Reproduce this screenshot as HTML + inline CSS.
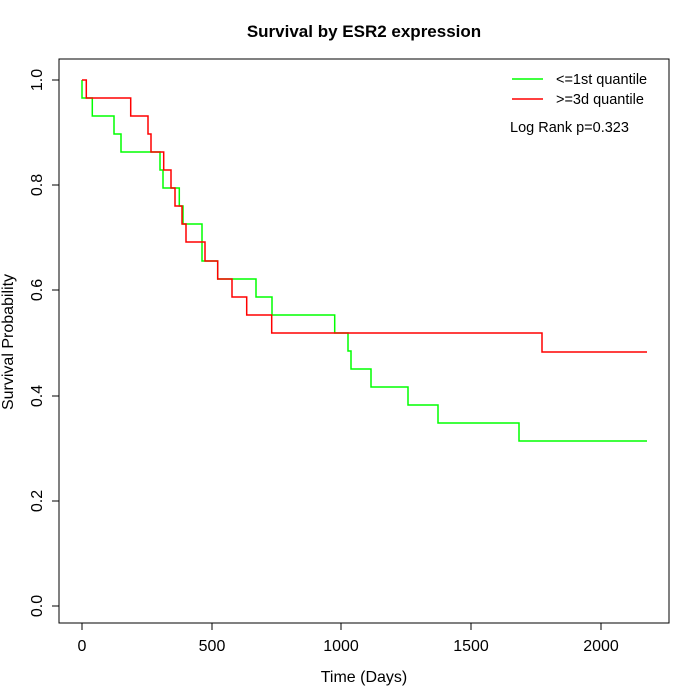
<!DOCTYPE html><html><head><style>body{margin:0;background:#fff}svg{display:block}text{font-family:"Liberation Sans",sans-serif}</style></head><body>
<svg width="700" height="700" xmlns="http://www.w3.org/2000/svg">
<rect width="700" height="700" fill="#fff"/>
<text x="364" y="37" text-anchor="middle" font-size="17" font-weight="bold">Survival by ESR2 expression</text>
<rect x="59" y="59" width="610" height="564" fill="none" stroke="#000" stroke-width="1"/>
<g stroke="#000" stroke-width="1" fill="none">
<path d="M82,623V630M212,623V630M341,623V630M471,623V630M601,623V630M82,623H601"/>
<path d="M59,606H52M59,501H52M59,396H52M59,290H52M59,185H52M59,80H52M59,80V606"/>
</g>
<g font-size="16" text-anchor="middle">
<text x="82" y="651">0</text><text x="212" y="651">500</text><text x="341" y="651">1000</text><text x="471" y="651">1500</text><text x="601" y="651">2000</text>
<text x="364" y="682">Time (Days)</text>
</g>
<g font-size="16" text-anchor="middle">
<text transform="translate(42,606) rotate(-90)">0.0</text>
<text transform="translate(42,501) rotate(-90)">0.2</text>
<text transform="translate(42,396) rotate(-90)">0.4</text>
<text transform="translate(42,290) rotate(-90)">0.6</text>
<text transform="translate(42,185) rotate(-90)">0.8</text>
<text transform="translate(42,80) rotate(-90)">1.0</text>
<text transform="translate(13,342) rotate(-90)">Survival Probability</text>
</g>
<path fill="none" stroke="#00ff00" stroke-width="1.5" d="M82,80V98H92.3V116H114V134H121V152H160V170H163V188H179.3V206H183V224H202V261H217.7V279H256V297H272V315H334.7V333H348V351H351V369H371V387H408V405H438V423H519V441H647"/>
<path fill="none" stroke="#ff0000" stroke-width="1.5" d="M82,80H86.3V98H130.7V116H148V134H151V152H163.7V170H171V188H175V206H182V224H186V242H205V261H217.7V279H232V297H246.7V315H271.7V333H542V352H647"/>
<line x1="512" y1="79" x2="543" y2="79" stroke="#00ff00" stroke-width="1.5"/>
<line x1="512" y1="99" x2="543" y2="99" stroke="#ff0000" stroke-width="1.5"/>
<g font-size="14.5">
<text x="556" y="84">&lt;=1st quantile</text>
<text x="556" y="104">&gt;=3d quantile</text>
<text x="510" y="132">Log Rank p=0.323</text>
</g>
</svg></body></html>
